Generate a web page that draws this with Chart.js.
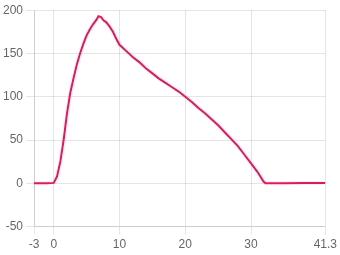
<!DOCTYPE html>
<html>
<head>
<meta charset="utf-8">
<script src="https://cdn.jsdelivr.net/npm/chart.js@4/dist/chart.umd.min.js"></script>
<style>
  html, body { margin: 0; padding: 0; background: #fff; }
</style>
</head>
<body>
<canvas id="myChart" width="340" height="255"></canvas>
<script>
// x positions and values
const xs = [-3, -1, 0, 0.5, 1, 1.5, 2, 2.5, 3, 3.5, 4, 4.5, 5, 5.5, 6, 6.5, 6.8, 7.2, 7.6, 8, 8.5, 9, 9.5, 10,
  11, 12, 13, 14, 15, 16, 17, 18, 19, 20, 21, 22, 23, 24, 25, 26, 27, 28, 29, 30, 31, 31.9, 32.2, 35, 38, 41.3];
const ys = [0, 0, 0.5, 8, 25, 50, 80, 104, 121, 137, 150, 161, 171, 178, 184, 189, 193, 192, 188, 186, 181, 175, 167, 160,
  153, 146, 140, 133, 127, 121, 116, 111, 106, 100, 94, 87, 81, 74, 67, 59, 51, 43, 33, 23, 13, 2, 0, 0, 0.3, 0.3];

const xMin = -3;
const xMax = 41.3;
const yMin = -50;
const yMax = 200;

let points = xs.map((x, idx) => { return {x: x, y: ys[idx]} });

let grapharea = document.getElementById('myChart');
let myChart = new Chart(grapharea, {
  type: 'line',
  data: {
    datasets: [{
      data: points,
      borderColor: '#ff0a55',
      borderWidth: 2,
      pointRadius: 0,
      tension: 0,
      fill: false
    }]
  },
  options: {
    responsive: false,
    animation: false,
    plugins: {
      legend: { display: false },
      tooltip: { enabled: false }
    },
    scales: {
      x: {
        type: 'linear',
        min: xMin,
        max: xMax,
        ticks: { stepSize: 10, color: '#666', font: { size: 12 } }
      },
      y: {
        min: yMin,
        max: yMax,
        ticks: { stepSize: 50, color: '#666', font: { size: 12 } }
      }
    }
  }
});
</script>
</body>
</html>
